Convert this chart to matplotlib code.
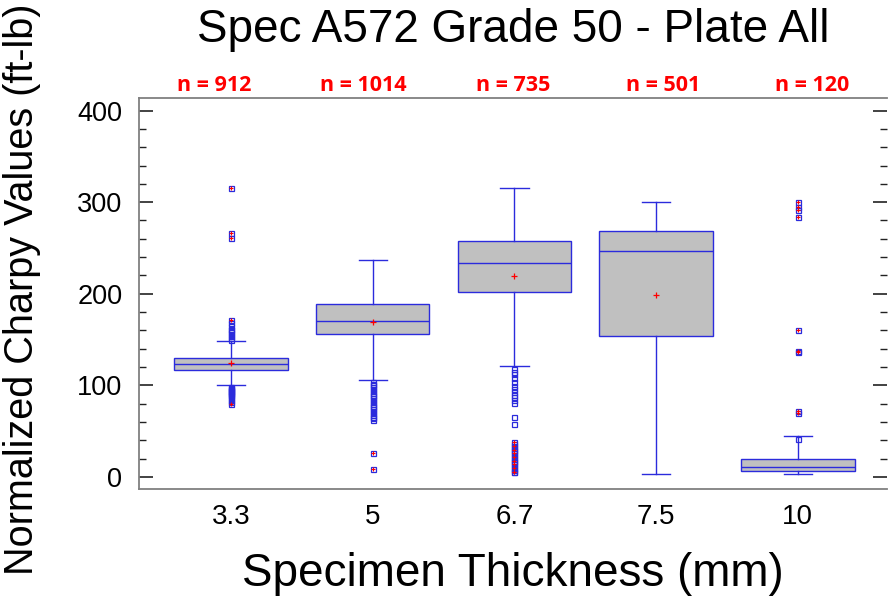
import matplotlib.pyplot as plt
import numpy as np
from matplotlib.ticker import MultipleLocator

plt.rcParams['font.family'] = ['Liberation Sans', 'DejaVu Sans']

# thickness groups and sample counts
labels = ['3.3', '5', '6.7', '7.5', '10']
counts = [912, 1014, 735, 501, 120]

# box summary values (ft-lb)
q1 = [117, 156, 202, 154, 7]
med = [123, 170, 234, 247, 11]
q3 = [130, 189, 258, 269, 20]
whislo = [100, 106, 121, 3, 3]
whishi = [149, 237, 316, 300, 45]
means = [125, 169, 219, 199, None]   # last one not visible in the chart

# outliers per group
fliers = [
    [150, 152, 154, 156, 158, 160, 162, 165, 168, 171, 261, 266, 315,
     98, 97, 96, 95, 94, 93, 92, 91, 90, 88, 86, 84, 82, 80],
    [104, 102, 100, 98, 96, 94, 92, 90, 88, 86, 84, 82, 80, 78, 76, 74,
     72, 70, 68, 66, 64, 62, 26, 9],
    [118, 115, 112, 108, 104, 99, 96, 93, 90, 87, 84, 81, 66, 58,
     38, 36, 34, 32, 30, 28, 26, 24, 22, 20, 18, 16, 14, 12, 10, 8, 6, 5],
    [],
    [42, 70, 72, 136, 138, 161, 284, 292, 295, 300],
]
# outliers drawn with a red cross inside (far outside values)
far = [
    [80, 171, 261, 266, 315],
    [26, 9],
    [38, 34, 30, 26, 22, 18, 14, 10, 6, 5],
    [],
    [70, 72, 136, 138, 161, 284, 292, 295, 300],
]

blue = '#2b2bdc'
stats = []
for i in range(len(labels)):
    stats.append(dict(q1=q1[i], med=med[i], q3=q3[i], whislo=whislo[i],
                      whishi=whishi[i], fliers=fliers[i]))

fig = plt.figure(figsize=(8.88, 5.97), dpi=100)
ax = fig.add_axes([0.1565, 0.181, 0.8425, 0.6553])
pos = np.arange(1, len(labels) + 1)

ax.bxp(stats, positions=pos, widths=0.8, capwidths=0.2, patch_artist=True,
       boxprops=dict(facecolor='#c0c0c0', edgecolor=blue, linewidth=1.0),
       medianprops=dict(color=blue, linewidth=1.0),
       whiskerprops=dict(color=blue, linewidth=1.0),
       capprops=dict(color=blue, linewidth=1.0),
       flierprops=dict(marker='s', markersize=3.6, markerfacecolor='none',
                       markeredgecolor=blue, markeredgewidth=0.9))

for i, m in enumerate(means):
    if m is not None:
        ax.plot(pos[i], m, '+', color='red', markersize=5,
                markeredgewidth=0.9, zorder=4)

for i, vals in enumerate(far):
    if vals:
        ax.plot([pos[i]] * len(vals), vals, '+', color='red', markersize=3.5,
                markeredgewidth=0.8, zorder=4)

ax.set_xlim(0.35, 5.63)
ax.set_ylim(-13, 414)
ax.set_xticks(pos)
ax.set_xticklabels(labels, fontsize=20)
ax.yaxis.set_major_locator(MultipleLocator(100))
ax.yaxis.set_minor_locator(MultipleLocator(20))
ax.tick_params(axis='y', which='major', direction='in', length=10, width=1.2,
               labelsize=19.5, right=True, color='#222222', pad=12)
ax.tick_params(axis='y', which='minor', direction='in', length=5, width=1.0,
               right=True, color='#222222')
ax.tick_params(axis='x', length=0, pad=11)

for s in ['left', 'top', 'bottom']:
    ax.spines[s].set_color('#808080')
    ax.spines[s].set_linewidth(1.3)
ax.spines['right'].set_visible(False)

# sample counts sit on an even grid across the top of the frame
for i, n in enumerate(counts):
    ax.text(0.1 + 0.2 * i, 1.03, f'n = {n}', color='red', fontsize=15.5,
            fontweight='bold', ha='center', va='center', family='Open Sans',
            transform=ax.transAxes)

fig.text(0.578, 0.93, 'Spec A572 Grade 50 - Plate All', fontsize=33,
         ha='center', va='baseline')
fig.text(0.578, 0.018, 'Specimen Thickness (mm)', fontsize=33,
         ha='center', va='baseline')
fig.text(0.025, 0.515, 'Normalized Charpy Values (ft-lb)', fontsize=28.5,
         rotation=90, ha='center', va='center')

fig.savefig('out.png', dpi=100)
